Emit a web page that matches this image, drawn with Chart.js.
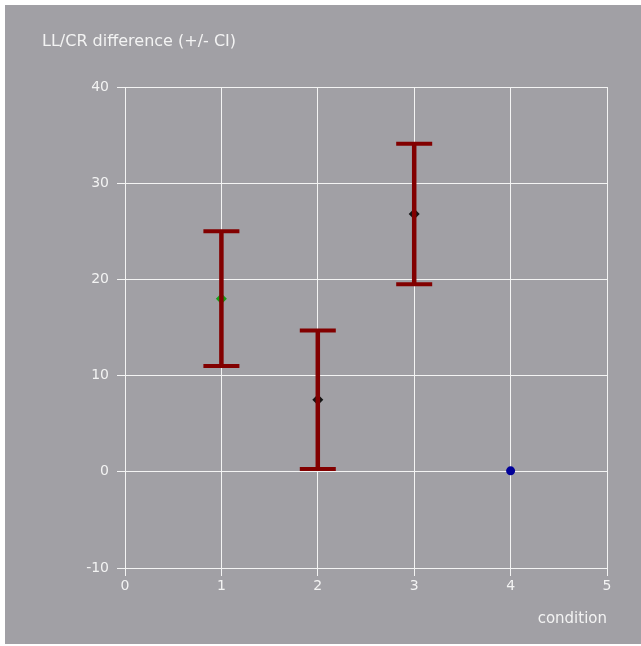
<!DOCTYPE html>
<html>
<head>
<meta charset="utf-8">
<script src="https://cdn.jsdelivr.net/npm/chart.js@4/dist/chart.umd.min.js"></script>
<style>
  html, body { margin: 0; padding: 0; background: #ffffff; }
  #wrap { position: absolute; left: 5px; top: 5px; width: 636px; height: 639px; background: #a1a0a5; }
  canvas { display: block; }
</style>
</head>
<body>
<div id="wrap"><canvas id="c" width="636" height="639"></canvas></div>
<script>
// Conditions on the x axis and the measured LL/CR difference for each
const conditions = [1, 2, 3, 4];
const means = [18, 7.5, 26.8, 0.1];
const ciLower = [11, 0.3, 19.5, null];
const ciUpper = [25, 14.7, 34.1, null];
const pointColors = ['#16a016', '#141414', '#141414', '#000099'];
const pointStyles = ['rectRot', 'rectRot', 'rectRot', 'circle'];
const pointRadii = [5.5, 5.5, 5.5, 4.5];

const xTicks = [0, 1, 2, 3, 4, 5];
const yTicks = [-10, 0, 10, 20, 30, 40];

const titleText = 'LL/CR difference (+/- CI)';
const xAxisText = 'condition';

const textColor = '#f3f3f3';
const gridColor = '#f4f4f4';
const barColor = '#820000';
const fontFamily = '"DejaVu Sans", Verdana, sans-serif';

// Vertical confidence bars with caps, drawn on top of the markers
const errorBars = {
  id: 'errorBars',
  afterDatasetsDraw(chart) {
    const { ctx, scales: { x, y } } = chart;
    ctx.save();
    ctx.strokeStyle = barColor;
    ctx.lineCap = 'butt';
    conditions.forEach((c, i) => {
      if (ciLower[i] == null || ciUpper[i] == null) return;
      const px = x.getPixelForValue(c);
      const yLo = y.getPixelForValue(ciLower[i]);
      const yHi = y.getPixelForValue(ciUpper[i]);
      ctx.lineWidth = 4.5;
      ctx.beginPath();
      ctx.moveTo(px, yHi);
      ctx.lineTo(px, yLo);
      ctx.stroke();
      ctx.lineWidth = 4;
      ctx.beginPath();
      ctx.moveTo(px - 18, yHi);
      ctx.lineTo(px + 18, yHi);
      ctx.moveTo(px - 18, yLo);
      ctx.lineTo(px + 18, yLo);
      ctx.stroke();
    });
    ctx.restore();
  }
};

// Chart heading at the top left and the x axis name under the axis
const labels = {
  id: 'labels',
  afterDraw(chart) {
    const { ctx, chartArea } = chart;
    ctx.save();
    ctx.fillStyle = textColor;
    ctx.textBaseline = 'middle';
    ctx.font = '16px ' + fontFamily;
    ctx.textAlign = 'left';
    ctx.fillText(titleText, 37, 37);
    ctx.font = '15px ' + fontFamily;
    ctx.textAlign = 'right';
    ctx.fillText(xAxisText, chartArea.right, chartArea.bottom + 51);
    ctx.restore();
  }
};

new Chart(document.getElementById('c'), {
  type: 'scatter',
  data: {
    datasets: [{
      data: conditions.map((c, i) => ({ x: c, y: means[i] })),
      pointStyle: pointStyles,
      pointRadius: pointRadii,
      pointHoverRadius: pointRadii,
      pointBackgroundColor: pointColors,
      pointBorderColor: pointColors,
      pointBorderWidth: 0
    }]
  },
  options: {
    responsive: false,
    animation: false,
    events: [],
    layout: { padding: { top: 82, right: 34, left: 0, bottom: 0 } },
    plugins: { legend: { display: false }, tooltip: { enabled: false }, title: { display: false } },
    scales: {
      x: {
        type: 'linear',
        min: xTicks[0],
        max: xTicks[xTicks.length - 1],
        afterBuildTicks: s => { s.ticks = xTicks.map(v => ({ value: v })); },
        afterFit: s => { s.height = 76; },
        grid: { color: gridColor, lineWidth: 1, tickLength: 8, drawTicks: true },
        border: { display: false },
        ticks: { color: textColor, font: { family: fontFamily, size: 14 }, padding: 2, maxRotation: 0 }
      },
      y: {
        type: 'linear',
        min: yTicks[0],
        max: yTicks[yTicks.length - 1],
        afterBuildTicks: s => { s.ticks = yTicks.map(v => ({ value: v })); },
        afterFit: s => { s.width = 120; },
        grid: { color: gridColor, lineWidth: 1, tickLength: 8, drawTicks: true },
        border: { display: false },
        ticks: { color: textColor, font: { family: fontFamily, size: 14 }, padding: 8 }
      }
    }
  },
  plugins: [errorBars, labels]
});
</script>
</body>
</html>
